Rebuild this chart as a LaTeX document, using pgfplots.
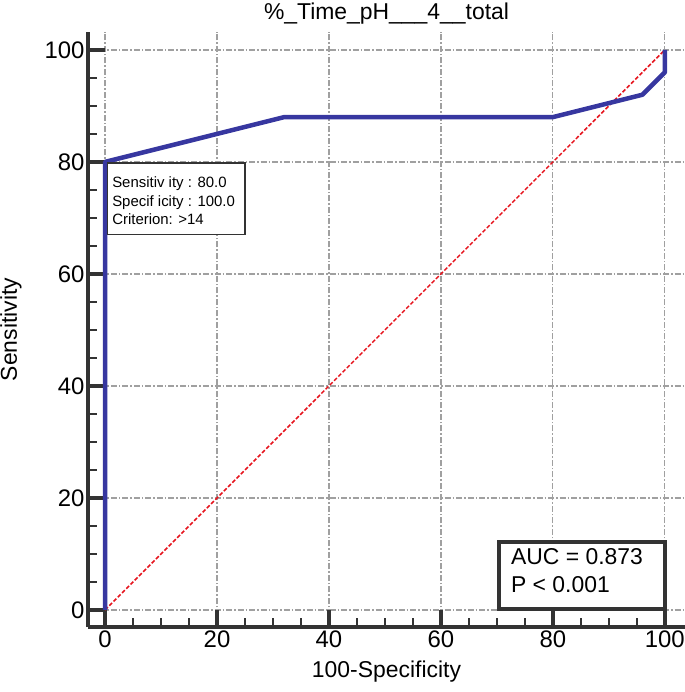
\documentclass[border=0pt]{standalone}
\usepackage{pgfplots}
\pgfplotsset{compat=1.18}
\usepackage{fontspec}
\setmainfont{Liberation Sans}
\definecolor{rocblue}{RGB}{55,55,160}
\definecolor{diagred}{RGB}{230,20,30}
\definecolor{axdark}{RGB}{51,51,51}
\definecolor{gridgray}{RGB}{160,160,160}
\begin{document}
\begin{tikzpicture}
\path[use as bounding box] (-88bp,-65bp) rectangle (597bp,627bp);
\begin{axis}[
  at={(0,0)}, anchor=south west,
  scale only axis,
  width=597bp, height=595bp,
  xmin=-3.05, xmax=103.6,
  ymin=-3.04, ymax=103.2,
  axis lines=left,
  axis line style={-, line width=3.5bp, color=axdark},
  xtick={0,20,...,100}, ytick={0,20,...,100},
  minor tick num=3,
  tick align=inside,
  major tick length=17bp, minor tick length=9bp,
  every major tick/.style={line width=3.5bp, color=axdark},
  every minor tick/.style={line width=2bp, color=axdark},
  grid=major,
  major grid style={color=gridgray, line width=1.2bp,
    dash pattern=on 6bp off 2bp on 1.5bp off 2bp},
  /pgf/number format/assume math mode=true,
  tick label style={font=\fontsize{24}{24}\selectfont, color=black},
  title={\%\_Time\_pH\_\_\_4\_\_total},
  title style={font=\fontsize{23}{23}\selectfont, at={(axis description cs:0.5,1)}, anchor=base, yshift=7bp},
  xlabel={100-Specificity},
  xlabel style={font=\fontsize{23}{23}\selectfont, at={(axis description cs:0.5,0)}, anchor=base, yshift=-50bp},
  ylabel={Sensitivity},
  ylabel style={font=\fontsize{23}{23}\selectfont, at={(axis description cs:0,0.5)}, anchor=base, yshift=71bp},
  clip=false,
]
\addplot[diagred, line width=1.5bp, dash pattern=on 4bp off 2bp] coordinates {(0,0) (100,100)};
\addplot[rocblue, line width=4.5bp, line join=round] coordinates {
  (0,0) (0,80) (32,88) (80,88) (96,92) (100,96) (100,100)};
% criterion box
\draw[line width=1.2bp, fill=white, draw=axdark] (axis cs:0.5,79.8) rectangle (axis cs:25,67.1);
\node[anchor=base west, inner sep=0pt, font=\fontsize{15}{15}\selectfont] at (axis cs:1.25,75.5) {Sensitiv ity : 80.0};
\node[anchor=base west, inner sep=0pt, font=\fontsize{15}{15}\selectfont] at (axis cs:1.25,72.1) {Specif icity : 100.0};
\node[anchor=base west, inner sep=0pt, font=\fontsize{15}{15}\selectfont] at (axis cs:1.25,68.75) {Criterion: >14};
% AUC box
\draw[line width=3.5bp, fill=white, draw=axdark] (axis cs:70.4,12.1) rectangle (axis cs:100,0.2);
\node[anchor=base west, inner sep=0pt, font=\fontsize{23}{23}\selectfont] at (axis cs:72.5,8.04) {AUC = 0.873};
\node[anchor=base west, inner sep=0pt, font=\fontsize{23}{23}\selectfont] at (axis cs:72.5,3.04) {P < 0.001};
\end{axis}
\end{tikzpicture}
\end{document}
